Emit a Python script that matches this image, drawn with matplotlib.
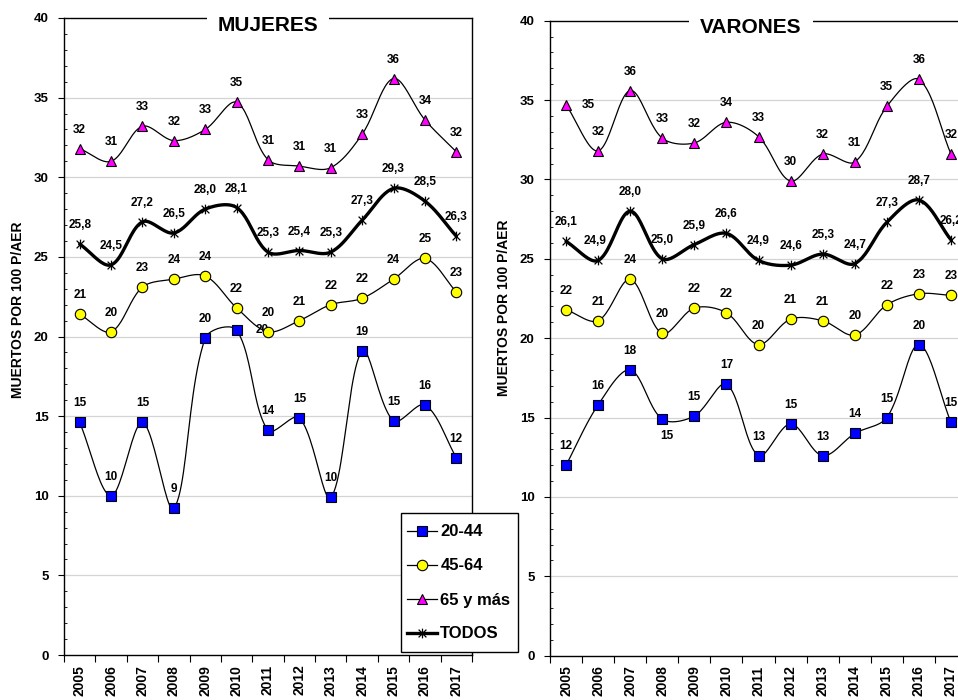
import numpy as np
import matplotlib
matplotlib.use("Agg")
import matplotlib.pyplot as plt
from matplotlib.lines import Line2D
from matplotlib.path import Path
from matplotlib.patches import Rectangle

plt.rcParams['font.family'] = ['Liberation Sans', 'DejaVu Sans']
plt.rcParams['font.weight'] = 'bold'

years = ['2005', '2006', '2007', '2008', '2009', '2010', '2011',
         '2012', '2013', '2014', '2015', '2016', '2017']

# Mujeres
m_20_44 = [14.6, 10.0, 14.6, 9.2, 19.9, 20.4, 14.1, 14.9, 9.9, 19.1, 14.7, 15.7, 12.4]
m_45_64 = [21.4, 20.3, 23.1, 23.6, 23.8, 21.8, 20.3, 21.0, 22.0, 22.4, 23.6, 24.9, 22.8]
m_65 = [31.8, 31.0, 33.2, 32.3, 33.0, 34.7, 31.1, 30.7, 30.6, 32.7, 36.2, 33.6, 31.6]
m_todos = [25.8, 24.5, 27.2, 26.5, 28.0, 28.1, 25.3, 25.4, 25.3, 27.3, 29.3, 28.5, 26.3]

# Varones
v_20_44 = [12.0, 15.8, 18.0, 14.9, 15.1, 17.1, 12.6, 14.6, 12.6, 14.0, 15.0, 19.6, 14.7]
v_45_64 = [21.8, 21.1, 23.7, 20.3, 21.9, 21.6, 19.6, 21.2, 21.1, 20.2, 22.1, 22.8, 22.7]
v_65 = [34.7, 31.8, 35.6, 32.6, 32.3, 33.6, 32.7, 29.9, 31.6, 31.1, 34.6, 36.3, 31.6]
v_todos = [26.1, 24.9, 28.0, 25.0, 25.9, 26.6, 24.9, 24.6, 25.3, 24.7, 27.3, 28.7, 26.2]

series_names = ['20-44', '45-64', '65 y más', 'TODOS']

# asterisk marker: an x plus a vertical stroke
star = Path([(-1, -1), (1, 1), (-1, 1), (1, -1), (0, -1.25), (0, 1.25)],
            [Path.MOVETO, Path.LINETO, Path.MOVETO, Path.LINETO, Path.MOVETO, Path.LINETO])

styles = [
    dict(marker='s', ms=7, mfc='#0000ff', mec='black', mew=0.8, lw=0.9),
    dict(marker='o', ms=7.5, mfc='#ffff00', mec='black', mew=0.8, lw=0.9),
    dict(marker='^', ms=7.5, mfc='#ff00ff', mec='black', mew=0.8, lw=0.9),
    dict(marker=star, ms=7, mfc='none', mec='black', mew=0.9, lw=2.4),
]


def smooth(y, sx=31.6, sy=15.9, n=24):
    # smoothed line: cubic bezier per segment, handles weighted by the
    # lengths of the neighbouring segments (measured in screen pixels)
    pts = np.column_stack([np.arange(len(y)) * sx, np.asarray(y, float) * sy])
    N = len(pts)
    d = np.linalg.norm(np.diff(pts, axis=0), axis=1)
    t = np.linspace(0, 1, n)[:, None]
    out = []
    for i in range(N - 1):
        p1, p2 = pts[i], pts[i + 1]
        p0 = pts[i - 1] if i > 0 else p1
        p3 = pts[i + 2] if i + 2 < N else p2
        d01 = d[i - 1] if i > 0 else 0.0
        d23 = d[i + 1] if i + 2 < N else 0.0
        c1 = p1 + (p2 - p0) / 3 * d[i] / (d01 + d[i])
        c2 = p2 - (p3 - p1) / 3 * d[i] / (d[i] + d23)
        seg = (1 - t) ** 3 * p1 + 3 * (1 - t) ** 2 * t * c1 + 3 * (1 - t) * t ** 2 * c2 + t ** 3 * p2
        out.append(seg if i == 0 else seg[1:])
    c = np.vstack(out)
    return c[:, 0] / sx, c[:, 1] / sy


def fmt_int(v):
    return str(int(np.floor(v + 0.5)))


def fmt_dec(v):
    return f"{v:.1f}".replace('.', ',')


def draw_panel(ax, data, title, title_x, offsets):
    x = np.arange(len(years))
    for k, (vals, st) in enumerate(zip(data, styles)):
        cx, cy = smooth(vals)
        ax.plot(cx, cy, color='black', lw=st['lw'], zorder=3 + k * 0.1,
                solid_capstyle='round')
        ax.plot(x, vals, ls='none', marker=st['marker'], ms=st['ms'], mfc=st['mfc'],
                mec=st['mec'], mew=st['mew'], zorder=4 + k * 0.1)
        fmt = fmt_dec if k == 3 else fmt_int
        for i, v in enumerate(vals):
            dx, dy, z = offsets.get((k, i), (0, 19, 6))
            ax.annotate(fmt(v), (i, v), xytext=(dx, dy), textcoords='offset pixels',
                        ha='center', va='center', fontsize=8.5, fontweight='bold',
                        zorder=z, annotation_clip=False)

    ax.set_xlim(-0.5, 12.5)
    ax.set_ylim(0, 40)
    ax.set_yticks(np.arange(0, 41, 5))
    ax.set_yticks(np.arange(0, 41, 1), minor=True)
    ax.set_xticks(x)
    ax.set_xticklabels(years, rotation=90, fontsize=10, fontweight='bold')
    ax.set_xticks(np.arange(-0.5, 13, 1), minor=True)
    ax.tick_params(axis='x', which='major', length=0, pad=7)
    ax.tick_params(axis='x', which='minor', length=5, width=0.8, direction='out')
    ax.tick_params(axis='y', which='major', length=4, width=0.8, direction='out',
                   labelsize=9.5, pad=7)
    ax.tick_params(axis='y', which='minor', length=2.5, width=0.6, direction='in')
    for lab in ax.get_yticklabels():
        lab.set_fontweight('bold')
    for yv in range(5, 40, 5):
        ax.axhline(yv, color='#d4d4d4', lw=0.9, zorder=1)
    for s in ax.spines.values():
        s.set_linewidth(1.0)
        s.set_color('black')
    ax.text(title_x, 0.989, title, transform=ax.transAxes, ha='center', va='center',
            fontsize=15, fontweight='bold', zorder=7,
            bbox=dict(facecolor='white', edgecolor='none', pad=8))


fig = plt.figure(figsize=(9.58, 7.0), dpi=100)
W, H = 958, 700
ax1 = fig.add_axes([64 / W, 1 - 655 / H, 408 / W, 637 / H])
ax2 = fig.add_axes([550 / W, 1 - 655.7 / H, 417 / W, 635 / H])

left_offsets = {(0, 5): (26, 0, 3.5), (3, 15): (5, 19, 6)}
right_offsets = {(2, 0): (22, 0, 6), (0, 3): (5, -17, 6), (3, 1): (-3, 19, 6)}

draw_panel(ax1, [m_20_44, m_45_64, m_65, m_todos], 'MUJERES', 0.5, left_offsets)
draw_panel(ax2, [v_20_44, v_45_64, v_65, v_todos], 'VARONES', 0.482, right_offsets)

fig.text(17.7 / W, 1 - 310 / H, 'MUERTOS POR 100 P/AER', rotation=90,
         ha='center', va='center', fontsize=10, fontweight='bold')
fig.text(504 / W, 1 - 308 / H, 'MUERTOS POR 100 P/AER', rotation=90,
         ha='center', va='center', fontsize=10, fontweight='bold')

# legend box, then the entries on top of it
fig.add_artist(Rectangle((400.7 / W, 1 - 651.7 / H), 117 / W, 138.4 / H,
                         transform=fig.transFigure, facecolor='white',
                         edgecolor='black', lw=1.0, zorder=9))
handles = [Line2D([], [], color='black', lw=st['lw'], marker=st['marker'], ms=st['ms'],
                  mfc=st['mfc'], mec=st['mec'], mew=st['mew']) for st in styles]
leg = fig.legend(handles, series_names, loc='center left',
                 bbox_to_anchor=(407.3 / W, 1 - 583 / H), borderaxespad=0,
                 frameon=False, prop=dict(size=12, weight='bold'), handlelength=1.8,
                 handletextpad=0.18, labelspacing=1.14, borderpad=0)
leg.set_zorder(10)

fig.savefig('out.png', dpi=100)
